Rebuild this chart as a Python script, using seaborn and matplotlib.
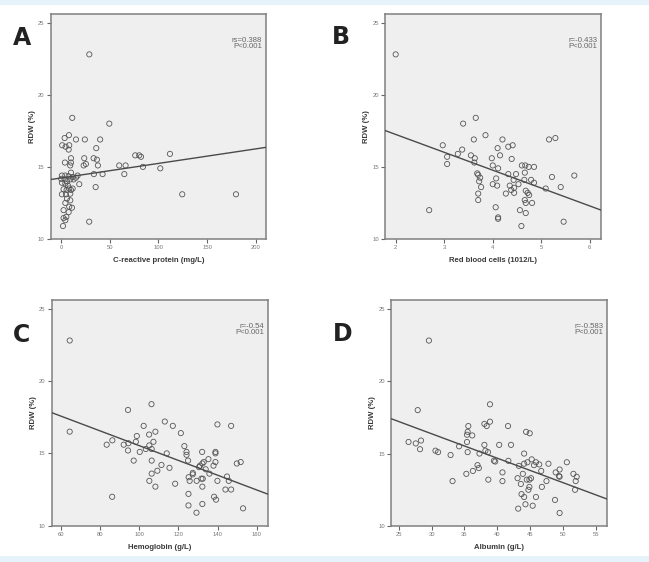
import numpy as np
import pandas as pd
import matplotlib
matplotlib.use("Agg")
import matplotlib.pyplot as plt
import seaborn as sns
from matplotlib.patches import Rectangle

# ---------------- data ----------------
crp = [29.1, 11.6, 49.6, 8.2, 3.8, 15.4, 24.5, 40.2, 1.3, 4.8, 8.5, 7.9, 36.2, 76.2, 80.3,
       82.1, 111.8, 10.3, 23.9, 33.5, 36.9, 4.1, 10.3, 25.6, 23.3, 37.9, 9.5, 59.8, 66.3,
       84.1, 101.9, 10.3, 33.8, 42.7, 65.0, 17.1, 15.4, 18.8, 35.6, 124.4, 179.5,
       1.0, 4.5, 7.9, 12.0, 0.3, 3.8, 9.6, 12.9, 6.2, 1.0, 4.5, 7.2, 2.7, 5.8, 8.5, 10.3,
       12.0, 1.0, 5.1, 9.6, 6.2, 9.6, 4.5, 8.5, 11.3, 2.7, 7.9, 5.5, 2.7, 4.5, 29.0, 2.1]
rdw_a = [22.8, 18.4, 18.0, 17.2, 17.0, 16.9, 16.9, 16.9, 16.5, 16.4, 16.5, 16.2, 16.3, 15.8, 15.8,
         15.7, 15.9, 15.6, 15.6, 15.6, 15.5, 15.3, 15.3, 15.2, 15.1, 15.1, 15.1, 15.1, 15.1,
         15.0, 14.9, 14.6, 14.5, 14.5, 14.5, 14.4, 14.25, 13.8, 13.6, 13.1, 13.1,
         14.4, 14.4, 14.35, 14.3, 14.17, 14.13, 14.13, 14.13, 14.0, 13.9, 13.85, 13.7, 13.45,
         13.4, 13.5, 13.4, 13.5, 13.1, 13.1, 13.14, 12.8, 12.68, 12.5, 12.24, 12.17, 12.0,
         11.86, 11.54, 11.45, 11.3, 11.2, 10.9]

rbc = [2.0, 3.65, 3.39, 3.85, 3.61, 4.2, 5.16, 5.29, 2.97, 3.37, 4.1, 4.32, 4.41, 3.28, 3.06,
       3.55, 3.63, 4.15, 3.98, 4.39, 3.62, 3.06, 4.0, 4.11, 4.6, 4.67, 4.74, 4.85, 4.66,
       3.68, 3.7, 4.32, 4.48, 5.22, 5.68, 3.74, 3.72, 4.07, 4.43, 4.65, 4.79, 4.85, 3.76,
       4.0, 4.09, 4.35, 4.53, 4.44, 4.38, 5.4, 5.09, 3.7, 4.27, 4.44, 4.68, 4.72, 4.75,
       3.7, 4.66, 4.68, 4.81, 2.69, 4.06, 4.56, 4.68, 4.11, 4.11, 5.46, 4.59]
rdw_b = [22.8, 18.4, 18.0, 17.2, 16.9, 16.9, 16.9, 17.0, 16.5, 16.2, 16.3, 16.4, 16.5, 15.9, 15.7,
         15.8, 15.6, 15.8, 15.6, 15.55, 15.3, 15.2, 15.1, 14.9, 15.1, 15.1, 15.0, 15.0, 14.6,
         14.55, 14.45, 14.5, 14.5, 14.3, 14.4, 14.25, 14.0, 14.2, 14.1, 14.1, 14.1, 13.9, 13.6,
         13.8, 13.7, 13.7, 13.8, 13.55, 13.4, 13.6, 13.5, 13.15, 13.15, 13.2, 13.35, 13.2, 13.05,
         12.7, 12.7, 12.5, 12.5, 12.0, 12.2, 12.0, 11.8, 11.5, 11.4, 11.2, 10.9]

hgb = [64.4, 64.4, 94.2, 106.2, 102.2, 113.0, 117.1, 121.2, 139.9, 146.9, 98.7, 105.0, 108.2,
       83.3, 86.2, 92.0, 94.4, 98.2, 107.2, 105.1, 106.3, 103.3, 94.2, 100.2, 123.0, 114.0,
       124.1, 124.1, 132.1, 138.9, 138.9, 97.1, 106.3, 124.9, 135.3, 138.9, 111.3, 115.4,
       132.9, 132.2, 131.0, 130.5, 137.9, 149.8, 151.8, 109.2, 106.3, 133.9, 135.8, 127.3,
       127.3, 105.1, 118.3, 125.2, 125.7, 129.3, 131.7, 132.4, 139.9, 144.8, 145.7, 108.2,
       132.2, 144.0, 146.9, 125.1, 86.1, 138.2, 139.2, 125.1, 132.2, 153.0, 129.2]
rdw_c = [22.8, 16.5, 18.0, 18.4, 16.9, 17.2, 16.9, 16.4, 17.0, 16.9, 16.2, 16.3, 16.5,
         15.6, 15.9, 15.6, 15.7, 15.8, 15.8, 15.55, 15.3, 15.3, 15.2, 15.1, 15.5, 15.0,
         15.1, 14.9, 15.1, 15.1, 15.0, 14.5, 14.5, 14.5, 14.6, 14.4, 14.2, 14.0,
         14.4, 14.3, 14.15, 14.05, 14.15, 14.3, 14.4, 13.8, 13.6, 13.9, 13.6, 13.65,
         13.55, 13.1, 12.9, 13.35, 13.1, 13.1, 13.25, 13.25, 13.1, 13.4, 13.1, 12.7,
         12.7, 12.5, 12.5, 12.2, 12.0, 12.0, 11.8, 11.4, 11.5, 11.2, 10.9]

alb = [29.6, 27.9, 38.9, 38.9, 38.05, 38.4, 35.6, 41.65, 44.4, 44.95, 35.5, 35.4, 36.2,
       26.5, 27.6, 28.4, 28.25, 35.4, 34.2, 38.05, 40.3, 42.1, 30.6, 31.0, 32.9, 35.5,
       37.3, 38.2, 38.6, 39.5, 39.7, 44.1, 41.7, 43.3, 44.1, 44.6, 45.25, 45.9, 46.4, 45.6,
       47.8, 50.6, 46.7, 49.5, 37.0, 37.2, 36.3, 35.3, 40.8, 48.9, 49.4, 49.5, 51.6, 52.1,
       43.9, 43.1, 33.2, 38.65, 40.8, 44.5, 44.9, 45.15, 47.5, 51.95, 43.6, 44.9, 46.8,
       44.75, 51.85, 43.7, 44.1, 45.9, 48.8, 44.3, 45.4, 43.2, 49.5]
rdw_d = [22.8, 18.0, 18.4, 17.2, 17.05, 16.9, 16.9, 16.9, 16.5, 16.4, 16.5, 16.3, 16.25,
         15.8, 15.7, 15.9, 15.3, 15.8, 15.5, 15.6, 15.6, 15.6, 15.2, 15.1, 14.9, 15.1,
         15.0, 15.2, 15.1, 14.5, 14.45, 15.0, 14.5, 14.15, 14.3, 14.4, 14.6, 14.4, 14.25, 14.2,
         14.3, 14.4, 13.8, 13.9, 14.2, 14.0, 13.8, 13.6, 13.7, 13.7, 13.45, 13.4, 13.6, 13.4,
         13.6, 13.3, 13.1, 13.2, 13.1, 13.2, 13.2, 13.3, 13.1, 13.1, 12.9, 12.7, 12.7,
         12.5, 12.5, 12.2, 12.0, 12.0, 11.8, 11.5, 11.4, 11.2, 10.9]

panel_letters = ["A", "B", "C", "D"]
x_labels = ["C-reactive protein (mg/L)", "Red blood cells (1012/L)",
            "Hemoglobin (g/L)", "Albumin (g/L)"]
stat_labels = ["rs=0.388\nP<0.001", "r=-0.433\nP<0.001", "r=-0.54\nP<0.001", "r=-0.583\nP<0.001"]
x_ticks = [[0, 50, 100, 150, 200], [2, 3, 4, 5, 6],
           [60, 80, 100, 120, 140, 160], [25, 30, 35, 40, 45, 50, 55]]
x_limits = [(-10.5, 210.3), (1.78, 6.23), (55.2, 165.6), (23.83, 56.67)]
y_ticks = [10, 15, 20, 25]
y_limit = (10, 25.6)
fit_intercept = [14.23, 19.73, 20.63, 21.43]
fit_slope = [0.0101, -1.24, -0.051, -0.1687]

xs = [crp, rbc, hgb, alb]
ys = [rdw_a, rdw_b, rdw_c, rdw_d]

# ---------------- figure ----------------
sns.set_theme(style="white")
plt.rcParams['font.family'] = ['Liberation Sans', 'DejaVu Sans']

W, H = 649, 562
fig = plt.figure(figsize=(W / 100, H / 100), dpi=100)
fig.patch.set_facecolor("white")
# light blue strips at top and bottom
fig.add_artist(Rectangle((0, 1 - 5 / H), 1, 5 / H, transform=fig.transFigure,
                         facecolor="#e6f3fa", edgecolor="none"))
fig.add_artist(Rectangle((0, 0), 1, 6 / H, transform=fig.transFigure,
                         facecolor="#e6f3fa", edgecolor="none"))

# axes boxes in pixels: left, right, top, bottom
boxes = [(50.7, 266, 14, 239), (385, 601, 14, 239),
         (51.7, 267.7, 300, 525.7), (391, 606.7, 300, 526)]
letter_pos = [(22, 38), (341, 37), (22, 335), (343, 334)]

for i in range(4):
    l, r, t, b = boxes[i]
    ax = fig.add_axes([l / W, (H - b) / H, (r - l) / W, (b - t) / H])
    ax.set_facecolor("#efefef")
    df = pd.DataFrame({"x": xs[i], "y": ys[i]})
    sns.scatterplot(data=df, x="x", y="y", ax=ax, marker="o", s=14,
                    facecolor="none", edgecolor="#555555", linewidth=0.6, zorder=3)
    ax.set_xlim(*x_limits[i])
    ax.set_ylim(*y_limit)
    xx = np.array(x_limits[i])
    ax.plot(xx, fit_intercept[i] + fit_slope[i] * xx, color="#4a4a4a", lw=1.0, zorder=4)

    ax.set_xticks(x_ticks[i])
    ax.set_yticks(y_ticks)
    ax.tick_params(axis="both", which="major", direction="out", length=3, width=0.8,
                   color="#666666", labelsize=4.2, labelcolor="#777777", pad=1.5,
                   left=True, bottom=True)
    for s in ax.spines.values():
        s.set_color("#808080")
        s.set_linewidth(1.1)
    ax.set_xlabel(x_labels[i], fontsize=5.6, fontweight="bold", color="#3a3a3a", labelpad=5)
    ax.set_ylabel("RDW (%)", fontsize=5.6, fontweight="bold", color="#3a3a3a", labelpad=1.5)
    ax.text(0.983, 0.9, stat_labels[i], transform=ax.transAxes, ha="right", va="top",
            fontsize=5.6, color="#666666", linespacing=0.95)

    lx, ly = letter_pos[i]
    fig.text(lx / W, 1 - ly / H, panel_letters[i], ha="center", va="center",
             fontsize=17, fontweight="bold", color="#222222", family="DejaVu Sans")

fig.savefig("out.png", dpi=100, facecolor=fig.get_facecolor())
